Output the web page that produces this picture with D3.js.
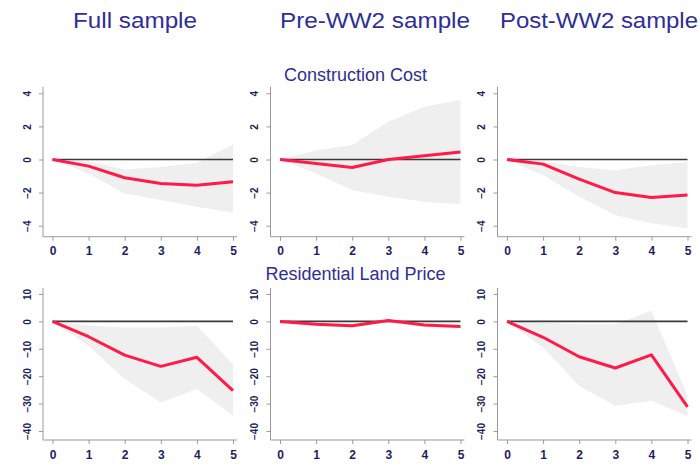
<!DOCTYPE html>
<html><head><meta charset="utf-8">
<script src="https://cdn.jsdelivr.net/npm/d3@7"></script>
<style>body{margin:0;background:#fff}svg{display:block}</style>
</head><body>
<script>
const horizons = [0,1,2,3,4,5];
const samples = ["Full sample","Pre-WW2 sample","Post-WW2 sample"];
const variables = ["Construction Cost","Residential Land Price"];
const ccTicks = [4,2,0,-2,-4];
const lpTicks = [10,0,-10,-20,-30,-40];

const ccFull   = [0,-0.4,-1.1,-1.45,-1.55,-1.35];
const ccFullLo = [0,-0.85,-2.05,-2.45,-2.85,-3.2];
const ccFullHi = [0,-0.1,-0.6,-0.45,-0.2,0.9];
const ccPre    = [0,-0.24,-0.48,0,0.22,0.46];
const ccPreLo  = [0,-0.85,-1.85,-2.25,-2.55,-2.7];
const ccPreHi  = [0,0.56,0.87,2.28,3.18,3.6];
const ccPost   = [0,-0.28,-1.19,-2.0,-2.3,-2.15];
const ccPostLo = [0,-0.95,-2.25,-3.35,-3.85,-4.15];
const ccPostHi = [0,-0.1,-0.45,-0.65,-0.35,-0.15];

const lpFull   = [0,-5.6,-12.3,-16.4,-13.1,-25.3];
const lpFullLo = [0,-8.9,-21,-29.6,-24.7,-34.4];
const lpFullHi = [0,-1.5,-2.2,-2.2,-1.6,-15.6];
const lpPre    = [0,-1,-1.6,0.3,-1.3,-1.9];
const lpPreLo  = [0,-1.5,-2.2,-0.3,-1.9,-2.5];
const lpPreHi  = [0,-0.5,-1,0.8,-0.7,-1.3];
const lpPost   = [0,-5.8,-12.9,-17,-12.2,-31.2];
const lpPostLo = [0,-9.5,-23.5,-30.8,-29,-34.5];
const lpPostHi = [0,-0.5,-1,-1,3.9,-27];

const rows = [
  {ticks: ccTicks, dom:[-4,4], yr:[225.7,93.3], axisY:236.7, top:86.7,
   panels:[[ccFull,ccFullLo,ccFullHi],[ccPre,ccPreLo,ccPreHi],[ccPost,ccPostLo,ccPostHi]]},
  {ticks: lpTicks, dom:[-40,10], yr:[431,294], axisY:440, top:288,
   panels:[[lpFull,lpFullLo,lpFullHi],[lpPre,lpPreLo,lpPreHi],[lpPost,lpPostLo,lpPostHi]]}
];
const colAxisX = [43, 270.5, 497.5];

const svg = d3.select("body").append("svg").attr("width",700).attr("height",474)
  .style("font-family","'Liberation Sans', Arial, sans-serif");

// column titles
const titleX = [73, 280, 500];
const titleW = [124, 190, 198];
samples.forEach((s,i)=>{
  svg.append("text").attr("x",titleX[i]).attr("y",28)
    .attr("font-size",22).attr("fill","#2e2e96")
    .attr("textLength",titleW[i]).attr("lengthAdjust","spacingAndGlyphs").text(s);
});
// row titles
svg.append("text").attr("x",355.5).attr("y",80.5).attr("text-anchor","middle")
  .attr("font-size",18).attr("fill","#2e2e96").text(variables[0]);
svg.append("text").attr("x",355.5).attr("y",280).attr("text-anchor","middle")
  .attr("font-size",18).attr("fill","#2e2e96").text(variables[1]);

rows.forEach((row)=>{
  row.panels.forEach((p,ci)=>{
    const ax = colAxisX[ci];
    const x = d3.scaleLinear().domain([0,5]).range([ax+9.5, ax+190]);
    const y = d3.scaleLinear().domain(row.dom).range(row.yr);
    const g = svg.append("g");
    const [est, lo, hi] = p;
    const area = d3.area().x((d,i)=>x(horizons[i])).y0((d,i)=>y(lo[i])).y1((d,i)=>y(hi[i]));
    g.append("path").datum(horizons).attr("d",area).attr("fill","#efefef");
    g.append("line").attr("x1",x(0)).attr("x2",x(5)).attr("y1",y(0)).attr("y2",y(0))
      .attr("stroke","#3a3a3a").attr("stroke-width",1.6);
    const line = d3.line().x((d,i)=>x(horizons[i])).y((d,i)=>y(est[i]));
    g.append("path").datum(horizons).attr("d",line).attr("fill","none")
      .attr("stroke","#ff1a4a").attr("stroke-width",3).attr("stroke-linejoin","round");
    // y axis
    const ya = d3.axisLeft(y).tickValues(row.ticks).tickSize(4).tickFormat(d3.format("d"));
    const yg = svg.append("g").attr("transform",`translate(${ax},0)`).call(ya);
    yg.select(".domain").attr("d",`M0,${row.top}V${row.axisY}`).attr("stroke","#9a9a9a");
    yg.selectAll(".tick line").attr("stroke","#9a9a9a");
    yg.selectAll(".tick text").attr("font-size",10).attr("font-weight","bold").attr("fill","#1e1e5e")
      .attr("text-anchor","middle").attr("x",0).attr("dy",0)
      .attr("transform","translate(-15,0) rotate(-90)")
      .attr("dominant-baseline","middle");
    // x axis
    const xa = d3.axisBottom(x).tickValues(horizons).tickSize(4).tickPadding(6).tickFormat(d3.format("d"));
    const xg = svg.append("g").attr("transform",`translate(0,${row.axisY})`).call(xa);
    xg.select(".domain").attr("d",`M${ax},0H${x(5)+4}`).attr("stroke","#9a9a9a");
    xg.selectAll(".tick line").attr("stroke","#9a9a9a");
    xg.selectAll(".tick text").attr("font-size",12).attr("font-weight","bold").attr("fill","#1e1e5e");
  });
});
</script>
</body></html>
